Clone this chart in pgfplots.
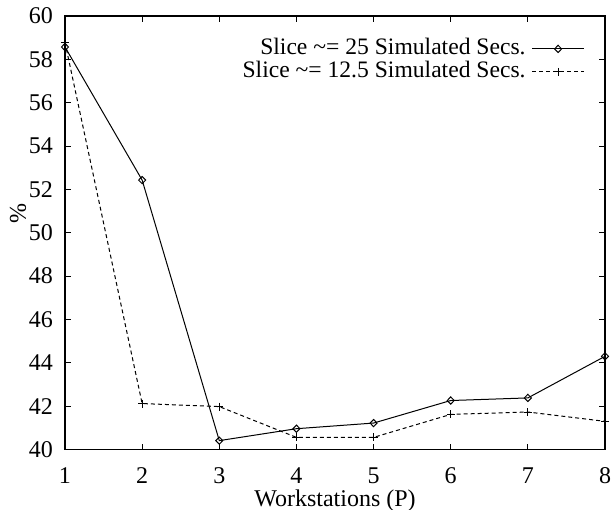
\documentclass[border=0pt]{standalone}
\usepackage{fontspec}
\setmainfont{Liberation Serif}
\usepackage{pgfplots}
\pgfplotsset{compat=1.18}
\begin{document}
\begin{tikzpicture}
\begin{axis}[
  name=ax,
  scale only axis, width=270pt, height=216.75pt,
  xmin=1, xmax=8, ymin=40, ymax=60,
  xtick={1,...,8}, ytick={40,42,...,60},
  tick align=inside, major tick length=3pt,
  axis line style={line width=0.8pt},
  every tick/.style={black, line width=0.5pt},
  /pgf/number format/assume math mode=true,
  tick label style={font=\fontsize{12}{14}\selectfont},
  xticklabel style={yshift=-5.5pt},
  yticklabel style={xshift=-2.5pt},
  label style={font=\fontsize{12}{14}\selectfont},
  xlabel={Workstations (P)}, ylabel={\%},
  xlabel style={at={(axis description cs:0.5,0)}, anchor=base, yshift=-28.5pt},
  ylabel style={at={(axis description cs:-0.087,0.545)}, anchor=center},
  legend style={draw=none, fill=none, at={(1,1)}, anchor=north east,
    xshift=-10pt, yshift=-10.5pt, inner sep=0pt, column sep=3pt, row sep=0pt,
    font=\fontsize{11.8}{14}\selectfont,
    nodes={inner sep=0pt, text height=8.5pt, text depth=3pt}},
  legend cell align=right, legend plot pos=right,
  legend image code/.code={\draw[#1,mark repeat=2,mark phase=2] plot coordinates {(0pt,0pt)(13pt,0pt)(26pt,0pt)};},
]
\addplot[black, line width=0.5pt, mark=diamond, mark size=1.8pt, mark options={solid, xscale=1.3}] coordinates {
(1,58.57) (2,52.43) (3,40.41) (4,40.96) (5,41.22) (6,42.26) (7,42.38) (8,44.3)};
\addlegendentry{Slice \textasciitilde= 25 Simulated Secs.}
\addplot[black, line width=0.5pt, dash pattern=on 2pt off 1.5pt, mark=+, mark size=2pt, mark options={solid}] coordinates {
(1,58.78) (2,42.12) (3,41.98) (4,40.56) (5,40.56) (6,41.62) (7,41.73) (8,41.30)};
\addlegendentry{Slice \textasciitilde= 12.5 Simulated Secs.}
\end{axis}
\pgfresetboundingbox
\path[use as bounding box] ([xshift=-32.5pt,yshift=-29.75pt]ax.south west) rectangle ([xshift=4pt,yshift=8pt]ax.north east);
\end{tikzpicture}
\end{document}
